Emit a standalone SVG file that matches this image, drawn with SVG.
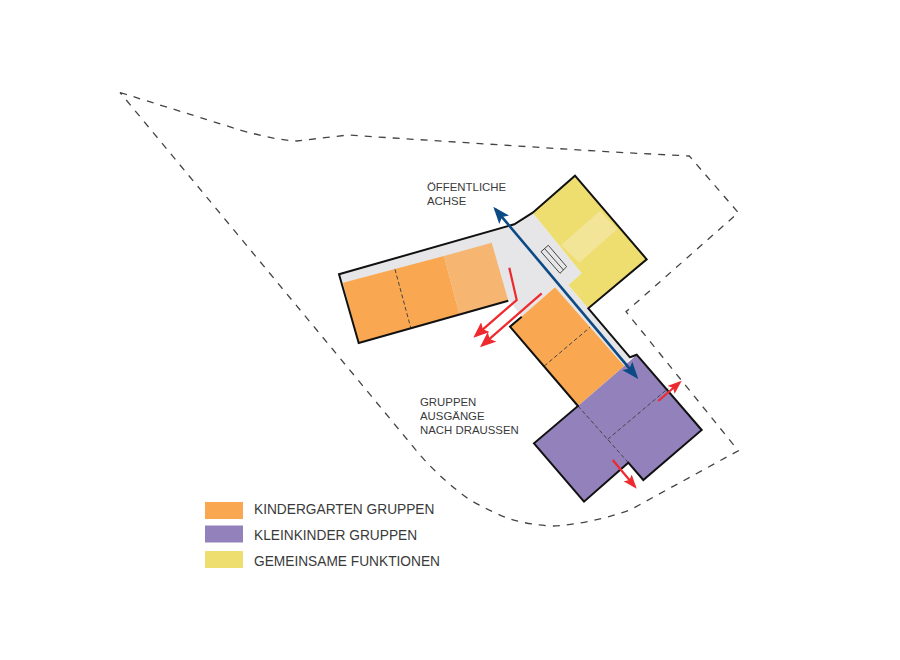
<svg xmlns="http://www.w3.org/2000/svg" width="900" height="660" viewBox="0 0 900 660">
<style>
text{font-family:"Liberation Sans",Arial,sans-serif;fill:#3a3a3a}
.lbl{font-size:11.4px}
.leg{font-size:13.72px}
.edge{fill:none;stroke:#111;stroke-width:2;stroke-linejoin:miter}
.site{fill:none;stroke:#444;stroke-width:1.3;stroke-dasharray:7 7}
.div{fill:none;stroke:#444;stroke-width:1;stroke-dasharray:4 2.5}
.red{fill:none;stroke:#ee2a2e;stroke-width:2.2}
.blue{fill:none;stroke:#0b4a84;stroke-width:2.6}
</style>
<defs>
<marker id="ar" viewBox="0 0 10 10" refX="8" refY="5" markerUnits="userSpaceOnUse" markerWidth="16" markerHeight="13" orient="auto" preserveAspectRatio="none"><path d="M0 0L10 5L0 10L2 5Z" fill="#ee2a2e"/></marker>
<marker id="ars" viewBox="0 0 10 10" refX="8" refY="5" markerUnits="userSpaceOnUse" markerWidth="14" markerHeight="10.5" orient="auto" preserveAspectRatio="none"><path d="M0 0L10 5L0 10L2 5Z" fill="#ee2a2e"/></marker>
<marker id="ab" viewBox="0 0 10 10" refX="8" refY="5" markerUnits="userSpaceOnUse" markerWidth="17" markerHeight="13" orient="auto-start-reverse" preserveAspectRatio="none"><path d="M0 0L10 5L0 10L2 5Z" fill="#0b4a84"/></marker>
</defs>
<g id="site"><path class="site" d="M120 92.5Q205 119 240 130Q275 140 296.7 141Q322 138 348 135L393 138L606.7 151.7L689.3 156L738.3 212.7L626 311.7L738.3 450.7L630 510Q590 524 553 526Q528 525 507 518Q488 510 470 500Q442 480 420 455L316.7 330L120 92.5"/></g>
<g id="floor"><path fill="#e6e6e8" d="M339 274.3L514.3 224.3L532.7 212.7L581.7 273.3L568.3 285L588.3 308.3L630 357.3L626 368L555 287.3L521.7 316.7L509 300L358.7 343Z"/></g>
<g id="kindergarten-west">
<path fill="#f9a851" d="M343 282.7L444 256L459.3 314L358.7 343Z"/>
<path fill="#f6b571" d="M444 256L491.7 242.7L508.3 300.7L459.3 314Z"/>
<path class="div" d="M395 269.3L410.7 327.7"/>
</g>
<g id="gemeinsam">
<path fill="#eedd6f" d="M532.7 212.7L575 175.7L646.7 259.3L588.3 308.3L568.3 285L581.7 273.3Z"/>
<path fill="#f3e598" d="M600 210.7L617.3 229.3L579.3 262.7L561 245Z"/>
</g>
<g id="kindergarten-south">
<path fill="#f9a851" d="M555 287.3L624.3 366L578 406L510 326.7Z"/>
<path class="div" d="M544.3 366L590 327.3"/>
</g>
<g id="kleinkinder">
<path fill="#9281bb" d="M636.7 354.7L701.7 430L643.3 480L628.3 462.7L584 501.7L534 443.3L578 406L624.3 366Z"/>
<path class="div" d="M578 406L628.3 462.7M607.7 439.3L668.3 388.3"/>
</g>
<g id="outline">
<path class="edge" d="M508.3 300.7L358.7 343L339 274.3L514.3 224.3L532.7 212.7L575 175.7L646.7 259.3L588.3 308.3L630 357.3L636.7 354.7L701.7 430L643.3 480L628.3 462.7L584 501.7L534 443.3L578 406L510 326.7L521.7 316.7"/>
</g>
<g id="bench"><path fill="none" stroke="#444" stroke-width="1" d="M541 251.7L548.3 245.3L566.7 266.7L560 273.3ZM544.5 248.5L563.5 270"/></g>
<g id="connectors">
<path class="blue" d="M495.5 209.3L636.1 376.4" marker-start="url(#ab)" marker-end="url(#ab)"/>
<path class="red" d="M509.3 267.7L516.7 300L475.7 335.6" marker-end="url(#ar)"/>
<path class="red" d="M541.7 293.3L482.4 345.2" marker-end="url(#ar)"/>
<path class="red" d="M658.3 401L679.6 382.5" marker-end="url(#ars)"/>
<path class="red" d="M612.7 460L634.9 486.5" marker-end="url(#ars)"/>
</g>
<g id="labels">
<text class="lbl" x="427" y="191">ÖFFENTLICHE</text>
<text class="lbl" x="427" y="205">ACHSE</text>
<text class="lbl" x="420" y="405.5">GRUPPEN</text>
<text class="lbl" x="420" y="419.5">AUSGÄNGE</text>
<text class="lbl" x="420" y="433.5">NACH DRAUSSEN</text>
</g>
<g id="legend">
<rect x="205" y="502" width="38" height="17" fill="#f9a851"/>
<rect x="205" y="525.5" width="38" height="17" fill="#9281bb"/>
<rect x="205" y="551" width="38" height="17" fill="#eedd6f"/>
<text class="leg" x="254" y="514">KINDERGARTEN GRUPPEN</text>
<text class="leg" x="254" y="540">KLEINKINDER GRUPPEN</text>
<text class="leg" x="254" y="566">GEMEINSAME FUNKTIONEN</text>
</g>
</svg>
